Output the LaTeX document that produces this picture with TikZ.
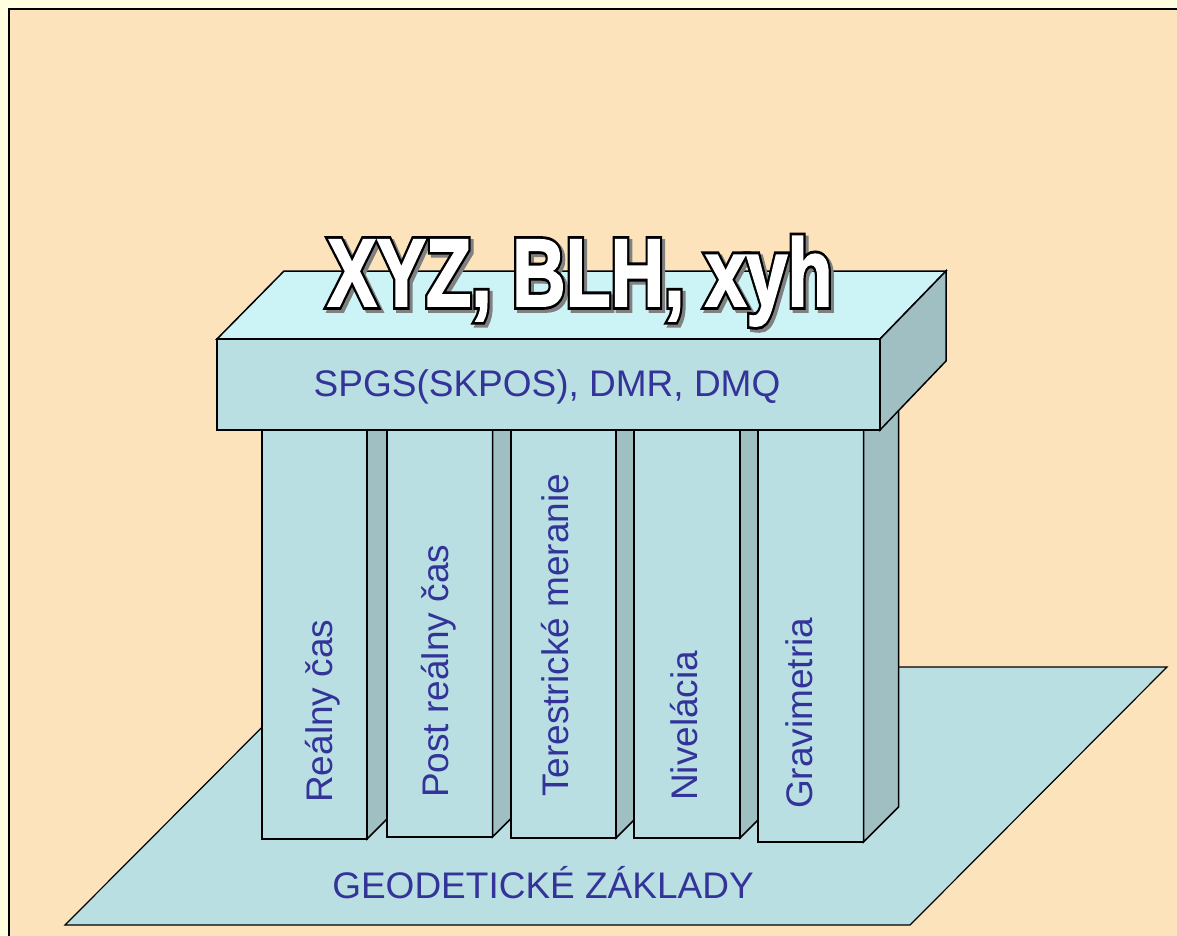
\documentclass[tikz,border=0pt]{standalone}
\usepackage{fontspec}
\setmainfont{Liberation Sans}
\newfontfamily\titlefont[FakeBold=2]{Liberation Sans Bold}
\newfontfamily\titlerimfont[FakeBold=8]{Liberation Sans Bold}
\usepackage{xcolor}
\usepackage{tikz}
\usetikzlibrary{positioning}

\definecolor{paper}{RGB}{255,255,224}
\definecolor{sand}{RGB}{253,227,187}
\definecolor{slabtop}{RGB}{204,243,245}
\definecolor{slabfront}{RGB}{185,223,226}
\definecolor{slabside}{RGB}{159,191,194}
\definecolor{labelblue}{RGB}{51,51,153}
\newcommand{\titletext}{\scalebox{0.77}[1]{XYZ, BLH, xyh}}

\begin{document}
\begin{tikzpicture}[x=1pt, y=-1pt, line join=miter,
  face/.style={draw=black, line width=1.5pt},
  lbl/.style={font=\fontsize{37}{40}\selectfont, text=labelblue, inner sep=0pt},
  pillarlbl/.style={lbl, rotate=90, anchor=base west},
  ttl/.style={font=\fontsize{96}{100}\selectfont\titlefont, inner sep=0pt, anchor=base},
  rim/.style={ttl, font=\fontsize{96}{100}\selectfont\titlerimfont}]
\clip (0,0) rectangle (1177,935);
% Background
\fill[paper] (0,0) rectangle (1177,935);
\filldraw[fill=sand, draw=black, line width=2pt] (9,9) rectangle (1200,960);
% Base plate
\filldraw[face, fill=slabfront, line width=1.2pt] (65,925) -- (910,925) -- (1167,667) -- (322,667) -- cycle;
\node[lbl, anchor=base] (base) at (543,898) {GEODETICKÉ ZÁKLADY};
% Pillars
\foreach \i/\x/\w/\b/\lx/\ly/\txt in {1/262/105/839/332/803/{Reálny čas},
    2/387/105.5/837/448/798/{Post reálny čas},
    3/511/105/838/568.5/797/{Terestrické meranie},
    4/634/106/838/697/801/{Nivelácia},
    5/758/105.5/842/812.5/809/{Gravimetria}} {
  \filldraw[face, fill=slabfront] (\x,400) rectangle (\x+\w,\b);
  \filldraw[face, fill=slabside] (\x+\w,400) -- (\x+\w+35,365) -- (\x+\w+35,\b-35) -- (\x+\w,\b) -- cycle;
  \node[pillarlbl] (pillar\i) at (\lx,\ly) {\txt};
}
% Top slab
\filldraw[face, fill=slabtop] (217,339) -- (284,271) -- (946,271) -- (880,339) -- cycle;
\filldraw[face, fill=slabside] (880,339) -- (946,271) -- (946,361) -- (880,430) -- cycle;
\filldraw[face, fill=slabfront] (217,339) rectangle (880,430);
\node[lbl, anchor=base] (slab) at (547,396) {SPGS(SKPOS), DMR, DMQ};
% Title: shadow, black rim, white letters
\node[rim, text=black!50] (shadow) at (583,309) {\titletext};
\node[rim, text=black] (rim) at (580,306) {\titletext};
\node[ttl, text=white] (title) at (580,306) {\titletext};
\end{tikzpicture}
\end{document}
